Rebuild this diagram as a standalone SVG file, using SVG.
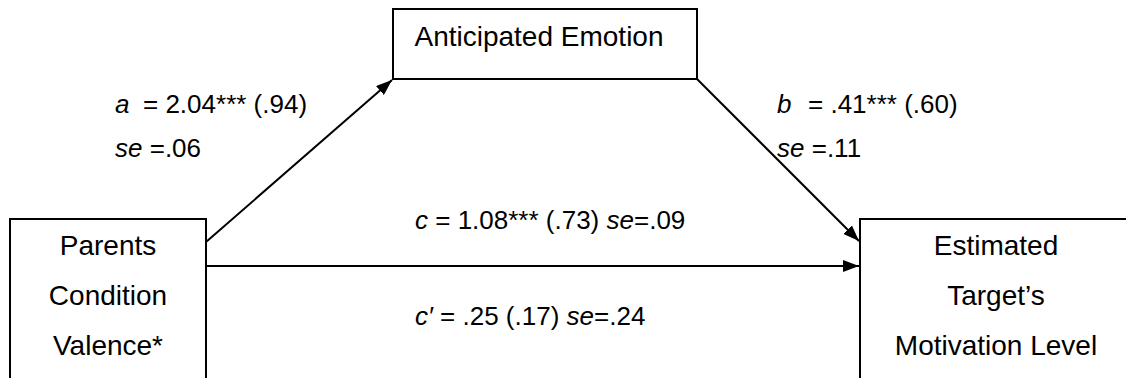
<svg xmlns="http://www.w3.org/2000/svg" width="1126" height="378" viewBox="0 0 1126 378">
<style>
.box{fill:#fff;stroke:#000;stroke-width:2}
.ln{stroke:#000;stroke-width:2;fill:none}
text{font-family:"Liberation Sans",Arial,sans-serif;fill:#000}
.n{font-size:28px;text-anchor:middle}
.l{font-size:26px}
.i{font-style:italic}
</style>
<defs>
<marker id="ah" viewBox="0 0 16 12" refX="16" refY="6" markerWidth="16" markerHeight="12" markerUnits="userSpaceOnUse" orient="auto">
<path d="M0,0 L16,6 L0,12 z" fill="#000"/>
</marker>
</defs>
<g id="node-parents">
<rect class="box" x="10" y="219" width="196" height="200"/>
<text class="n" x="108" y="255">Parents</text>
<text class="n" x="108" y="305">Condition</text>
<text class="n" x="108" y="355">Valence*</text>
</g>
<g id="node-emotion">
<rect class="box" x="393" y="9" width="304" height="70"/>
<text class="n" x="539" y="46">Anticipated Emotion</text>
</g>
<g id="node-motivation">
<rect class="box" x="860" y="219" width="300" height="200"/>
<text class="n" x="996" y="255">Estimated</text>
<text class="n" x="996" y="305">Target’s</text>
<text class="n" x="996" y="355">Motivation Level</text>
</g>
<g id="connectors">
<line class="ln" x1="206" y1="242" x2="392" y2="80" marker-end="url(#ah)"/>
<line class="ln" x1="697" y1="79" x2="859" y2="241" marker-end="url(#ah)"/>
<line class="ln" x1="206" y1="266" x2="859" y2="266" marker-end="url(#ah)"/>
</g>
<g id="labels">
<text class="l" x="115" y="113"><tspan class="i">a</tspan><tspan x="143">= 2.04*** (.94)</tspan></text>
<text class="l" x="115" y="157"><tspan class="i">se</tspan> =.06</text>
<text class="l" x="777" y="113"><tspan class="i">b</tspan><tspan x="808">= .41*** (.60)</tspan></text>
<text class="l" x="777" y="157"><tspan class="i">se</tspan> =.11</text>
<text class="l" x="415" y="229"><tspan class="i">c</tspan> = 1.08*** (.73) <tspan class="i">se</tspan>=.09</text>
<text class="l" x="415" y="325"><tspan class="i">c′</tspan> = .25 (.17) <tspan class="i">se</tspan>=.24</text>
</g>
</svg>
